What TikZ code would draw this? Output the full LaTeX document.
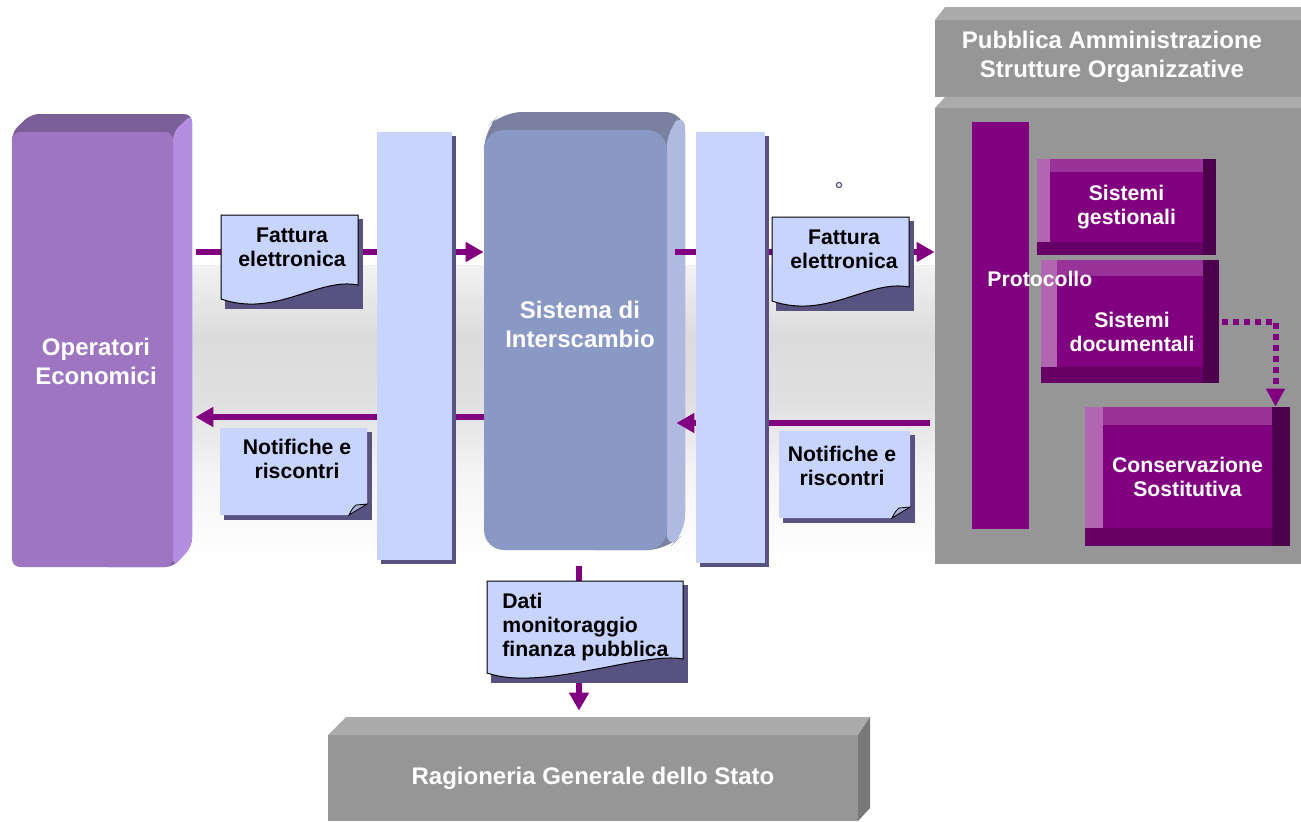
\documentclass[tikz,border=0pt]{standalone}
\usepackage{fontspec}
\setmainfont{Liberation Sans}
\usetikzlibrary{arrows.meta, shadows}

\definecolor{flowPurple}{RGB}{128,0,128}
\definecolor{paperBlue}{RGB}{200,212,252}
\definecolor{paperShadow}{RGB}{88,82,128}
\definecolor{flapBlue}{RGB}{168,174,212}
\definecolor{opFront}{RGB}{157,117,193}
\definecolor{opTop}{RGB}{122,95,152}
\definecolor{opSide}{RGB}{180,140,224}
\definecolor{sdiFront}{RGB}{138,152,196}
\definecolor{sdiTop}{RGB}{122,128,160}
\definecolor{sdiSide}{RGB}{176,186,224}
\definecolor{paGray}{RGB}{150,150,150}
\definecolor{paBevel}{RGB}{171,171,171}
\definecolor{paSide}{RGB}{120,120,120}
\definecolor{magMain}{RGB}{128,0,128}
\definecolor{magTop}{RGB}{153,51,153}
\definecolor{magLeft}{RGB}{178,102,178}
\definecolor{magBottom}{RGB}{102,0,102}
\definecolor{magRight}{RGB}{77,0,77}

\newcommand{\biglabelfont}{\fontsize{12}{14.5}\selectfont\bfseries}
\newcommand{\doclabelfont}{\fontsize{10.6}{12}\selectfont\bfseries}

\pgfdeclareverticalshading{band}{100bp}{color(0bp)=(white); color(25bp)=(white);
  color(40bp)=(gray!8); color(52bp)=(gray!24); color(63bp)=(gray!28);
  color(71bp)=(gray!16); color(75bp)=(gray!10); color(100bp)=(gray!10)}

% paper with wavy bottom: left, top, right, bottom
\newcommand{\wavedoc}[4]{%
  \fill[paperShadow] ({#1+4},{#2+4}) rectangle ({#3+5},{#4+5});
  \filldraw[fill=paperBlue, draw=black, line width=0.5pt] (#1,#2) -- (#3,#2) -- (#3,{#4-19})
    .. controls ({#3-40},{#4-27}) and ({#1+55},{#4+14}) .. (#1,{#4-5}) -- cycle;
}
% paper with folded corner: left, top, right, bottom
\newcommand{\folddoc}[4]{%
  \fill[paperShadow] ({#1+4},{#2+4}) rectangle ({#3+5},{#4+5});
  \fill[paperBlue] (#1,#2) -- (#3,#2) -- (#3,{#4-11}) -- ({#3-18},#4) -- (#1,#4) -- cycle;
  \filldraw[fill=flapBlue, draw=black, line width=0.4pt] ({#3-18},#4)
    .. controls ({#3-15},{#4-6}) .. ({#3-11},{#4-10}) -- (#3,{#4-11}) -- cycle;
}

\begin{document}
\begin{tikzpicture}[x=0.5pt, y=-0.5pt,
    flow/.style={flowPurple, line width=3.25pt, -{Triangle[length=9pt, width=9.5pt]}},
    dotflow/.style={flowPurple, line width=3pt, dash pattern=on 3pt off 2.5pt,
      -{Triangle[length=9pt, width=9pt]}},
    whitelabel/.style={text=white, font=\biglabelfont, align=center, inner sep=0pt},
    doclabel/.style={font=\doclabelfont, align=center, inner sep=0pt},
    bar/.style={fill=paperBlue, inner sep=0pt,
      drop shadow={shadow xshift=2pt, shadow yshift=-2pt, fill=paperShadow, opacity=1}},
    panel/.style={fill=paGray, inner sep=0pt},
    magbox/.style={fill=magMain, inner sep=0pt, text=white, font=\doclabelfont, align=center,
      path picture={
        \fill[magRight] ([xshift=-#1]path picture bounding box.north east)
          rectangle (path picture bounding box.south east);
        \fill[magBottom] (path picture bounding box.south west)
          rectangle ([xshift=-#1, yshift=#1]path picture bounding box.south east);
        \fill[magLeft] (path picture bounding box.north west)
          rectangle ([xshift=#1, yshift=#1]path picture bounding box.south west);
        \fill[magTop] ([xshift=#1]path picture bounding box.north west)
          rectangle ([xshift=-#1, yshift=-#1]path picture bounding box.north east);
      }}
    ]
    \useasboundingbox (0,0) rectangle (1301,821);

    \shade[shading=band] (192,265) rectangle (935,565);

    % Pubblica Amministrazione
    \fill[paBevel] (935,20) -- (945,7) -- (1301,7) -- (1301,20) -- cycle;
    \node[panel, minimum width=183pt, minimum height=38.5pt] (paHead) at (1118,58.5) {};
    \node[whitelabel] (paLabel) at (1112,57) {Pubblica Amministrazione\\Strutture Organizzative};
    \fill[paBevel] (935,108) -- (945,97) -- (1301,97) -- (1301,108) -- cycle;
    \node[panel, minimum width=183pt, minimum height=228pt] (pa) at (1118,336) {};

    \node[fill=magMain, inner sep=0pt, minimum width=28.5pt, minimum height=203.5pt] (prot) at (1000.5,325.5) {};
    \node[magbox=6.5pt, minimum width=89.5pt, minimum height=48pt] (sg) at (1126.5,207) {Sistemi\\gestionali};
    \node[magbox=8pt, minimum width=89pt, minimum height=61.5pt] (sd) at (1130,321.5) {};
    \node[doclabel, text=white] (sdLabel) at (1132,332) {Sistemi\\documentali};
    \node[magbox=9pt, minimum width=102.5pt, minimum height=69.5pt] (cs) at (1187.5,476.5) {Conservazione\\Sostitutiva};
    \node[text=white, font=\doclabelfont, inner sep=0pt, anchor=west] (protLabel) at (987,279) {Protocollo};

    % Operatori Economici
    \fill[opTop, rounded corners=4pt] (12,300) -- (12,132) -- (31,114) -- (192,114) -- (192,546) -- (173,567) -- (100,567) -- cycle;
    \fill[opSide, rounded corners=4pt] (173,132) -- (192,114) -- (192,546) -- (173,567) -- cycle;
    \node[fill=opFront, rounded corners=4pt, inner sep=0pt, minimum width=80.5pt, minimum height=217.5pt] (op) at (92.5,349.5) {};
    \node[whitelabel] (opLabel) at (96,361) {Operatori\\Economici};

    % Sistema di Interscambio
    \fill[sdiTop, rounded corners=10pt] (484,300) -- (484,130) -- (502,112) -- (685,112) -- (685,532) -- (667,550) -- (575,550) -- cycle;
    \fill[sdiSide, rounded corners=8pt] (667,130) -- (685,112) -- (685,532) -- (667,550) -- cycle;
    \node[fill=sdiFront, rounded corners=10pt, inner sep=0pt, minimum width=91.5pt, minimum height=210pt] (sdi) at (575.5,340) {};
    \node[whitelabel] (sdiLabel) at (580,324) {Sistema di\\Interscambio};

    % Ragioneria Generale dello Stato
    \fill[paBevel] (328,735) -- (346,717) -- (870,717) -- (858,735) -- cycle;
    \fill[paSide] (858,735) -- (870,717) -- (870,808) -- (858,821) -- cycle;
    \node[panel, whitelabel, minimum width=265pt, minimum height=43pt] (rgs) at (593,778) {Ragioneria Generale dello Stato};

    % flows
    \coordinate (rowIn) at (0,252);
    \coordinate (rowBackL) at (0,417);
    \coordinate (rowBackR) at (0,423);
    \draw[flow] ([xshift=11.5pt]op.east |- rowIn) -- (sdi.west |- rowIn);
    \draw[flow] ([xshift=4pt]sdi.east |- rowIn) -- (pa.west |- rowIn);
    \draw[flow] ([xshift=-2.5pt]pa.west |- rowBackR) -- ([xshift=4.5pt]sdi.east |- rowBackR);
    \draw[flow] (sdi.west |- rowBackL) -- ([xshift=11pt]op.east |- rowBackL);
    \draw[flow] ([xshift=1.75pt, yshift=-8pt]sdi.south) -- ([xshift=1.75pt, yshift=12pt]sdi.south |- rgs.north);
    \draw[dotflow] ([xshift=1.5pt]sd.east) -| ([xshift=44pt]cs.north);

    \node[bar, minimum width=37.5pt, minimum height=214pt] (barL) at (414.5,346) {};
    \node[bar, minimum width=34.5pt, minimum height=215.5pt] (barR) at (730.5,347.5) {};

    \wavedoc{221}{215}{358}{304}
    \node[doclabel] (fatturaIn) at (292,247) {Fattura\\elettronica};
    \wavedoc{772}{217}{909}{306}
    \node[doclabel] (fatturaOut) at (844,249) {Fattura\\elettronica};
    \folddoc{220}{428}{367}{515}
    \node[doclabel] (notificheOut) at (297,459) {Notifiche e\\riscontri};
    \folddoc{779}{431}{910}{518}
    \node[doclabel] (notificheIn) at (842,466) {Notifiche e\\riscontri};
    \wavedoc{487}{581}{683}{678}
    \node[doclabel, align=left, anchor=west] (datiMef) at (502,627.5) {Dati\\monitoraggio\\finanza pubblica};

    \node[draw=paperShadow, circle, line width=0.6pt, inner sep=0pt, minimum size=2.6pt] (stray) at (839,185) {};
\end{tikzpicture}
\end{document}
